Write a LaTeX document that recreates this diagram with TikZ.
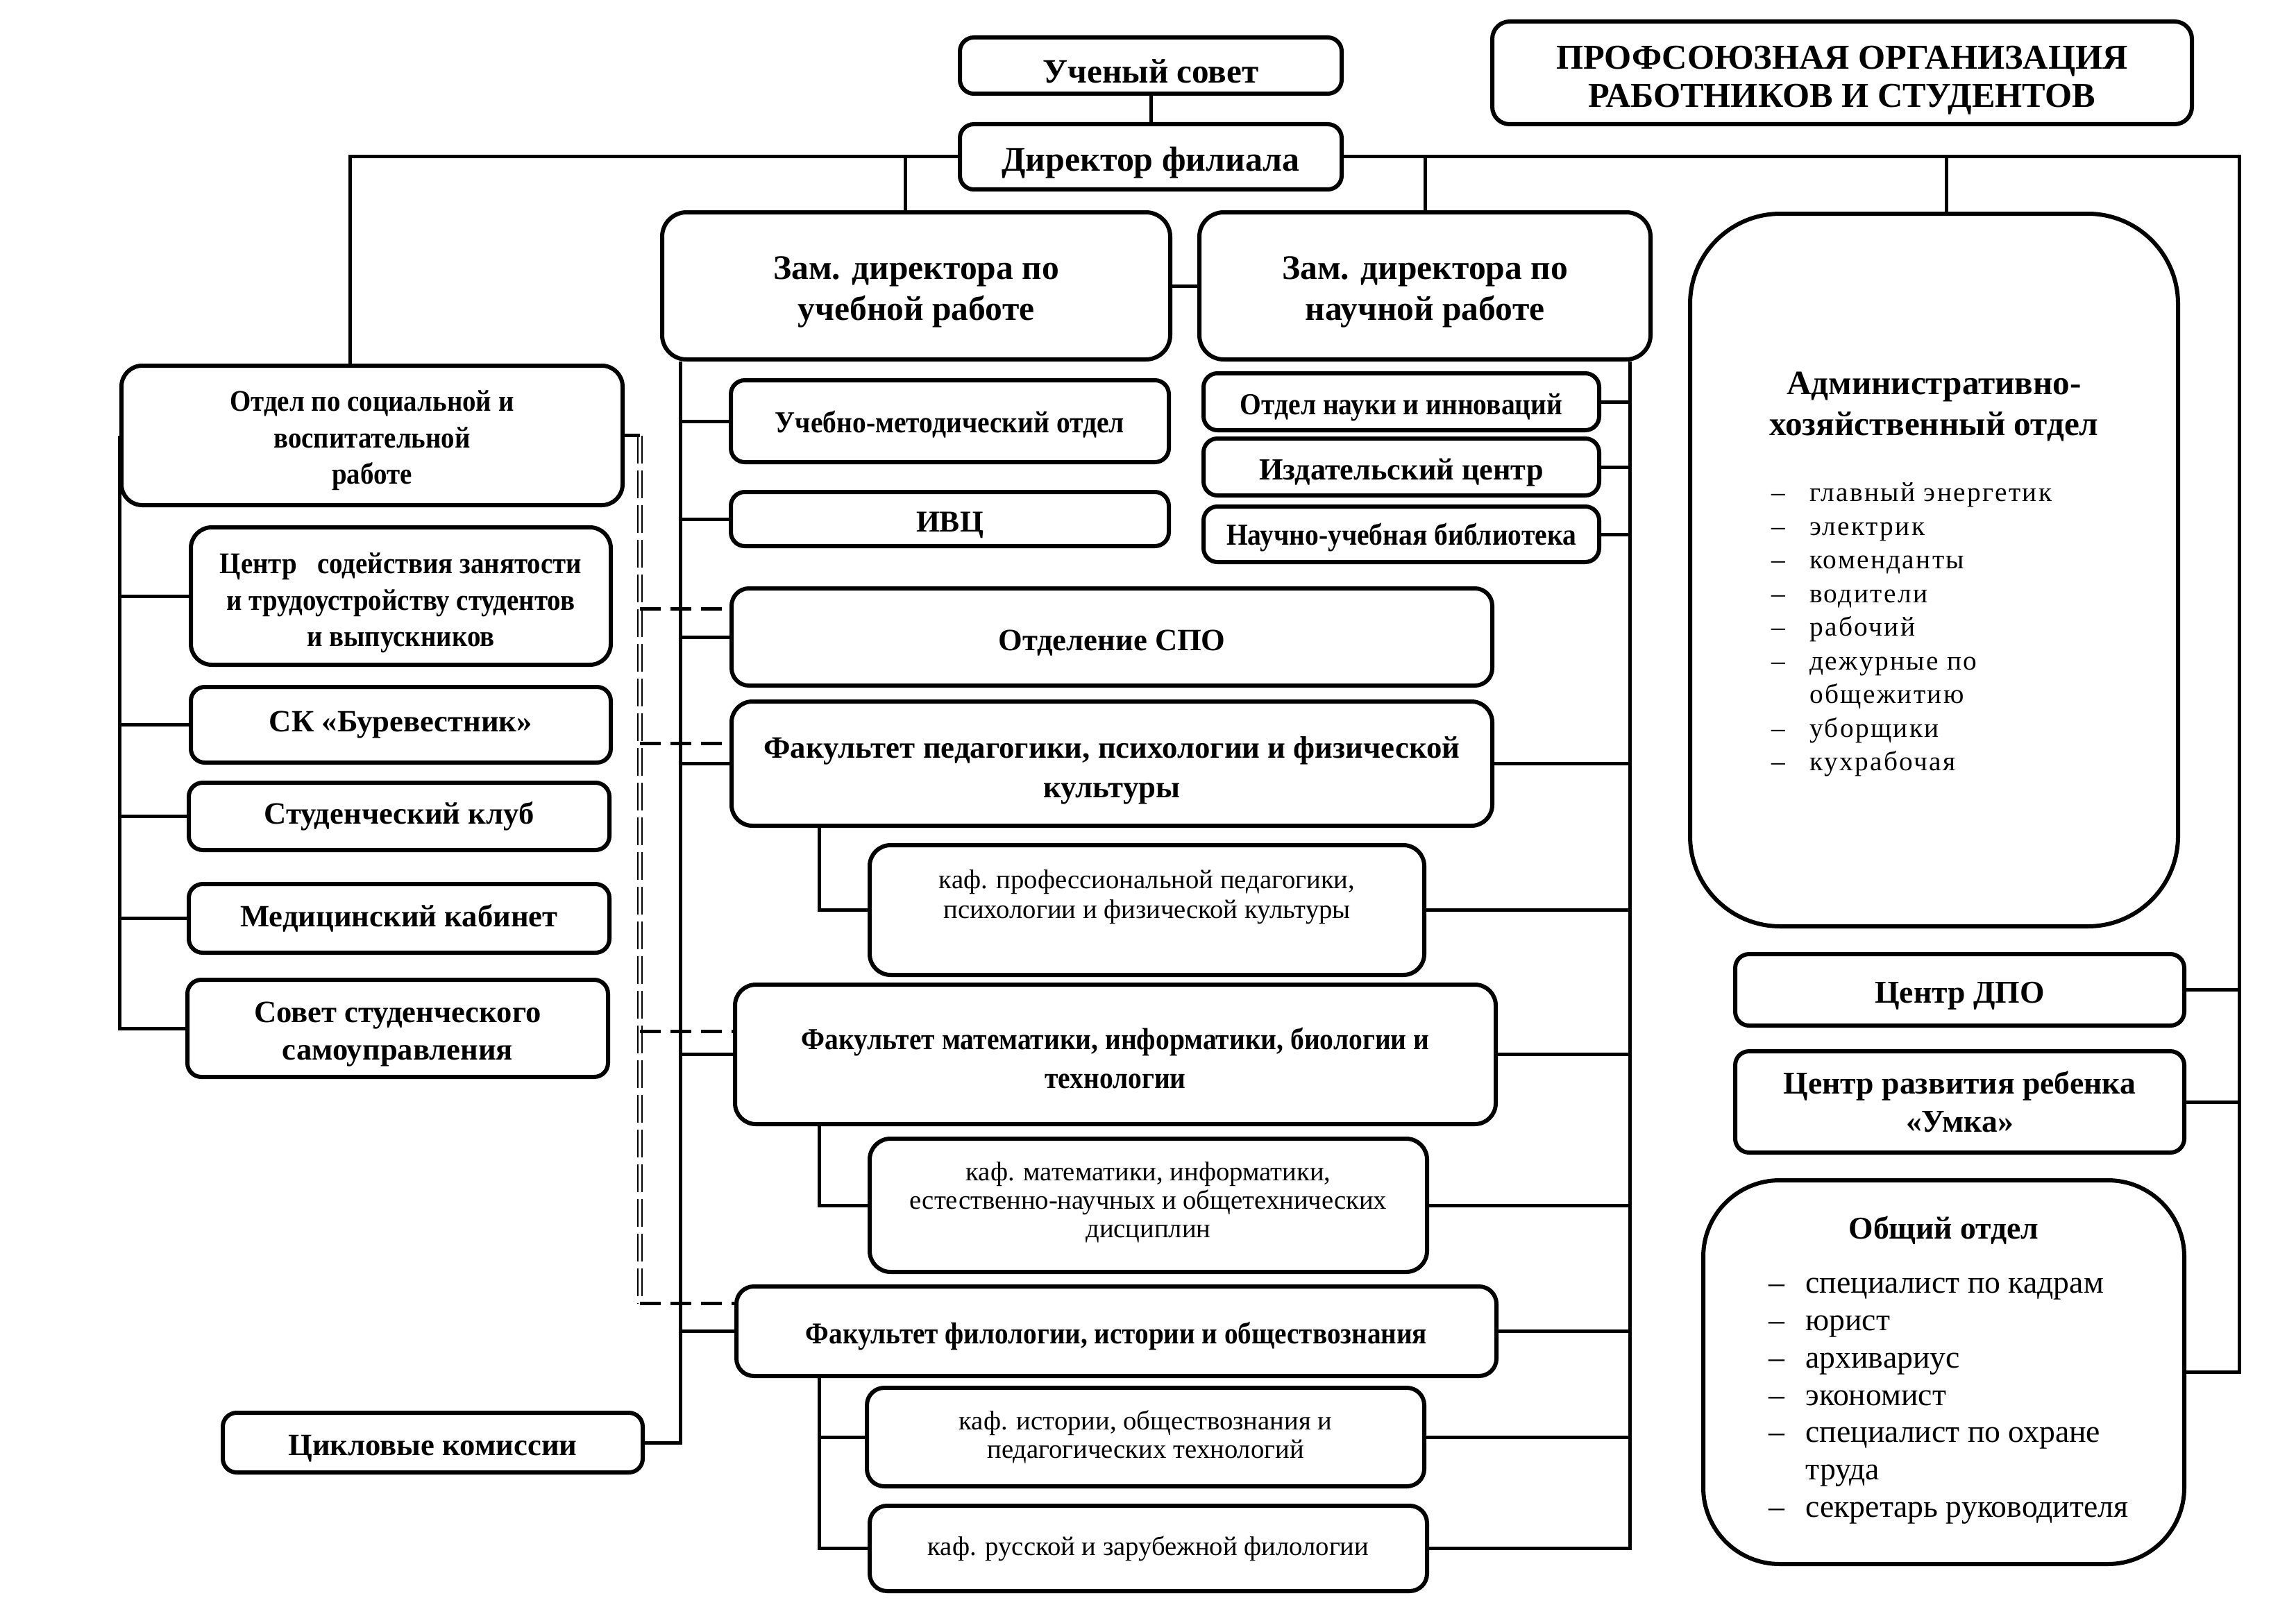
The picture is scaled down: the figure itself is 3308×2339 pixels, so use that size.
\documentclass[tikz,border=0pt]{standalone}
\usepackage{fontspec}
\setmainfont{Liberation Serif}
\newfontfamily\condfont{Liberation Serif}[FakeStretch=0.9]
\newfontfamily\spacedfont{Liberation Serif}[LetterSpace=6]
\usetikzlibrary{positioning, calc}

\newcommand{\fsz}[2]{\fontsize{#1pt}{#2pt}\selectfont}
\newcommand{\lowtx}[1][4.5pt]{\rule{0pt}{\dimexpr0.7em+#1\relax}}

\tikzset{
  unitbox/.style={draw, line width=0.6mm, rounded corners=2mm, align=center, inner sep=0.8mm, fill=white},
  sz/.style 2 args={minimum width=#1mm, minimum height=#2mm},
  link/.style={line width=0.5mm},
  dashlink/.style={line width=0.5mm, dash pattern=on 3mm off 1.4mm},
  dashbus/.style={line width=0.22mm, double, double distance=0.4mm, dash pattern=on 4mm off 1mm},
}

\begin{document}
\begin{tikzpicture}[x=0.1mm, y=-0.1mm]
\useasboundingbox (0,0) rectangle (3308,2339);

% руководство
\node[unitbox, sz={55}{8.1}, font=\bfseries\fsz{14}{16}] (sovet) at (1658,94.5) {\lowtx Ученый совет};
\node[unitbox, sz={55}{9.4}, font=\bfseries\fsz{14.2}{16}] (dir) at (1658,226) {\lowtx Директор филиала};
\node[unitbox, sz={100.8}{14.8}, rounded corners=2.5mm, font=\bfseries\fsz{14.3}{15.5}] (prof) at (2654,105)
  {\lowtx[5.5pt]ПРОФСОЮЗНАЯ ОРГАНИЗАЦИЯ\\РАБОТНИКОВ И СТУДЕНТОВ};
\node[unitbox, sz={73.2}{21.2}, rounded corners=3.5mm, font=\bfseries\fsz{14.1}{16.8}] (zamur) at (1320,412)
  {\lowtx Зам. директора по\\учебной работе};
\node[unitbox, sz={65}{21.2}, rounded corners=3.5mm, font=\bfseries\fsz{14.1}{16.8}] (zamnr) at (2053,412)
  {\lowtx Зам. директора по\\научной работе};

% административно-хозяйственная часть
\node[unitbox, sz={70.3}{102.7}, rounded corners=13mm, font=\bfseries\fsz{14}{16.8}] (aho) at (2786.5,821.5)
  {\lowtx[4.8pt]Административно-\\хозяйственный отдел\\[3.6mm]
   {\mdseries\spacedfont\fsz{11.2}{13.8}\begin{tabular}[t]{@{}l@{\hspace{3.5mm}}l@{}}
   – & главный энергетик\\ – & электрик\\ – & коменданты\\ – & водители\\
   – & рабочий\\ – & дежурные по\\ & общежитию\\ – & уборщики\\ – & кухрабочая
   \end{tabular}\hspace*{6.4mm}}};
\node[unitbox, sz={64.7}{10.3}, font=\bfseries\fsz{13}{15}] (dpo) at (2823.5,1426.5) {\lowtx Центр ДПО};
\node[unitbox, sz={64.7}{14.6}, font=\bfseries\fsz{13}{15.5}] (crr) at (2823.5,1588)
  {Центр развития ребенка\\«Умка»};
\node[unitbox, sz={69.3}{55.3}, rounded corners=11mm, font=\bfseries\fsz{13}{15.3}] (obsh) at (2800.5,1977.5)
  {Общий отдел\\[2.5mm]
   {\mdseries\fsz{13}{15.3}\hspace*{1.4mm}\begin{tabular}[t]{@{}l@{\hspace{3mm}}l@{}}
   – & специалист по кадрам\\ – & юрист\\ – & архивариус\\ – & экономист\\
   – & специалист по охране\\ & труда\\ – & секретарь руководителя
   \end{tabular}}};

% воспитательная работа
\node[unitbox, sz={72.2}{20.1}, rounded corners=3mm, font=\condfont\bfseries\fsz{12.3}{15}] (soc) at (536,627.5)
  {\lowtx[4pt]Отдел по социальной и\\воспитательной\\работе};
\node[unitbox, sz={60.5}{19.8}, rounded corners=3mm, font=\condfont\bfseries\fsz{12.3}{15}] (czent) at (577.5,859)
  {\lowtx[5.5pt]Центр\ \ \ содействия занятости\\и трудоустройству студентов\\и выпускников};
\node[unitbox, sz={60.5}{10.9}, font=\bfseries\fsz{12.7}{15}] (sk) at (577.5,1044.5) {СК «Буревестник»};
\node[unitbox, sz={60.6}{9.7}, font=\bfseries\fsz{12.7}{15}] (klub) at (575,1176.5) {Студенческий клуб};
\node[unitbox, sz={60.6}{9.9}, font=\bfseries\fsz{12.7}{15}] (med) at (575,1323.5) {Медицинский кабинет};
\node[unitbox, sz={60.6}{14}, font=\bfseries\fsz{12.7}{15.5}] (sovst) at (573,1482)
  {\lowtx Совет студенческого\\самоуправления};
\node[unitbox, sz={60.5}{8.6}, font=\bfseries\fsz{12.7}{15}] (cikl) at (623.5,2079) {\lowtx Цикловые комиссии};

% учебная часть
\node[unitbox, sz={63.1}{11.8}, font=\condfont\bfseries\fsz{12.5}{15}] (umo) at (1368.5,607) {\lowtx[3pt]Учебно-методический отдел};
\node[unitbox, sz={63.1}{7.8}, font=\bfseries\fsz{12.4}{15}] (ivc) at (1368.5,748) {\lowtx ИВЦ};
\node[unitbox, sz={109.6}{14}, rounded corners=2.5mm, font=\bfseries\fsz{12.7}{15}] (spo) at (1602,918) {\lowtx Отделение СПО};
\node[unitbox, sz={109.6}{17.9}, rounded corners=3mm, font=\bfseries\fsz{12.75}{16}] (fped) at (1602,1100.5)
  {\lowtx[5.5pt]Факультет педагогики, психологии и физической\\культуры};
\node[unitbox, sz={79.9}{18.7}, rounded corners=3mm, font=\fsz{11}{12.2}] (kped) at (1652.5,1311.5)
  {каф. профессиональной педагогики,\\психологии и физической культуры\\[1pt]\mbox{}};
\node[unitbox, sz={109.6}{20.1}, rounded corners=3mm, font=\condfont\bfseries\fsz{12.5}{16}] (fmat) at (1607,1519.5)
  {\lowtx[3.5pt]Факультет математики, информатики, биологии и\\технологии};
\node[unitbox, sz={80.3}{19.2}, rounded corners=3mm, font=\fsz{11}{11.8}] (kmat) at (1654.5,1737)
  {каф. математики, информатики,\\естественно-научных и общетехнических\\дисциплин\rule[-4.5pt]{0pt}{0pt}};
\node[unitbox, sz={109.5}{12.9}, rounded corners=2.5mm, font=\condfont\bfseries\fsz{12.4}{15}] (ffil) at (1608.5,1918.5)
  {\lowtx Факультет филологии, истории и обществознания};
\node[unitbox, sz={80.3}{14.2}, rounded corners=2.5mm, font=\fsz{11}{11.8}] (kist) at (1650.5,2071)
  {каф. истории, обществознания и\\педагогических технологий};
\node[unitbox, sz={80.3}{12.3}, rounded corners=2.5mm, font=\fsz{11}{12}] (krus) at (1654.5,2231.5)
  {каф. русской и зарубежной филологии};

% научная часть
\node[unitbox, sz={57}{8.2}, font=\condfont\bfseries\fsz{12.5}{15}] (nauki) at (2019,579) {\lowtx Отдел науки и инноваций};
\node[unitbox, sz={57}{8.2}, font=\bfseries\fsz{12.6}{15}] (izd) at (2019,673) {\lowtx Издательский центр};
\node[unitbox, sz={57}{8}, font=\condfont\bfseries\fsz{12.5}{15}] (bibl) at (2019,770) {\lowtx[3pt]Научно-учебная библиотека};

% линии связи
\coordinate (topx) at (504,0);
\coordinate (urtop) at (1304,0);
\coordinate (ahox) at (2804,0);
\coordinate (rx) at (3226,0);
\coordinate (urx) at (980,0);
\coordinate (nrx) at (2348,0);
\coordinate (kx) at (1180,0);
\coordinate (dx) at (922,0);

\draw[link] (sovet) -- (dir);
\draw[link] (dir.west) -| (soc.north -| topx);
\draw[link] (dir.east) -| (obsh.east -| rx) -- (obsh.east);
\draw[link] (aho.north -| ahox) -- (dir.east -| ahox);
\draw[link] (zamur.north -| urtop) -- (dir.west -| urtop);
\draw[link] (zamnr.north) -- (zamnr.north |- dir.east);
\draw[link] (zamur.east) -- (zamnr.west);
\foreach \n in {dpo,crr}
  \draw[link] (\n.east) -- (\n.east -| rx);

\draw[link] (zamur.south -| urx) -- (cikl.east -| urx) -- (cikl.east);
\foreach \n in {umo,ivc,spo,fped,fmat,ffil}
  \draw[link] (\n.west) -- (\n.west -| urx);

\draw[link] (zamnr.south -| nrx) -- (krus.east -| nrx) -- (krus.east);
\foreach \n in {nauki,izd,bibl,fped,kped,fmat,kmat,ffil,kist}
  \draw[link] (\n.east) -- (\n.east -| nrx);

\draw[link] (fped.south -| kx) |- (kped.west);
\draw[link] (fmat.south -| kx) |- (kmat.west);
\draw[link] (ffil.south -| kx) |- (krus.west);
\draw[link] (kist.west) -- (kist.west -| kx);

\draw[link] (soc.west) |- (sovst.west);
\foreach \n in {czent,sk,klub,med}
  \draw[link] (\n.west) -- (\n.west -| soc.west);

% пунктир
\foreach \n/\s in {spo/4.1,fped/2.9,fmat/3.3,ffil/4}
  \coordinate (d\n) at ([yshift=\s mm]\n.west);
\draw[dashbus] (soc.east -| dx) -- (dffil -| dx);
\draw[dashlink] (soc.east) -- (soc.east -| dx);
\foreach \n in {spo,fped,fmat,ffil}
  \draw[dashlink] (d\n -| dx) -- (d\n);
\end{tikzpicture}
\end{document}
